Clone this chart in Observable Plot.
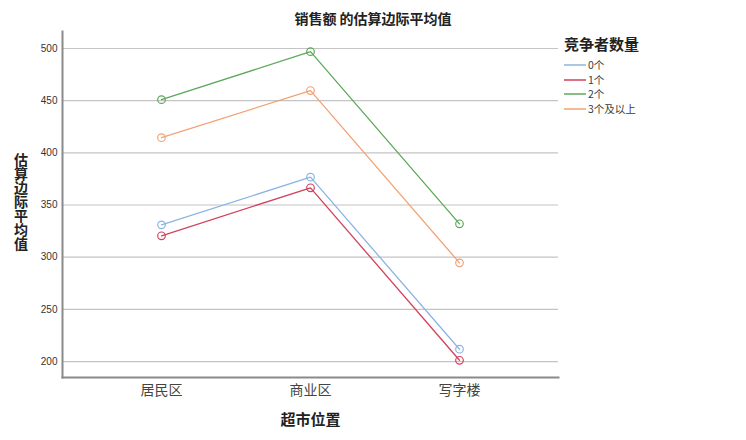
<!DOCTYPE html>
<html>
<head>
<meta charset="utf-8">
<script src="https://cdn.jsdelivr.net/npm/d3@7"></script>
<script src="https://cdn.jsdelivr.net/npm/@observablehq/plot@0.6"></script>
<style>
  body { margin: 0; background: #fff; }
  #wrap { position: relative; width: 746px; height: 440px; font-family: "Noto Sans CJK SC", sans-serif; }
  #title { position: absolute; left: 0; width: 746px; top: 8px; text-align: center; font-size: 14px; font-weight: bold; color: #222; }
  #ylab { position: absolute; left: 12px; top: 153px; font-size: 14px; font-weight: bold; color: #222; line-height: 18px;
          writing-mode: vertical-rl; text-orientation: upright; letter-spacing: 0; }
  #legend { position: absolute; left: 564px; top: 34px; font-size: 10.5px; color: #3a3a3a; }
  #legend .lt { font-size: 15px; font-weight: bold; color: #222; margin-bottom: 4px; line-height: 20px; }
  #legend .row { display: flex; align-items: center; height: 14.5px; line-height: 12px; }
  #legend svg { margin-right: 2px; display: block; }
</style>
</head>
<body>
<div id="wrap">
  <div id="chart"></div>
  <div id="title">销售额 的估算边际平均值</div>
  <div id="ylab">估算边际平均值</div>
  <div id="legend"></div>
</div>
<script>
const locations = ['居民区', '商业区', '写字楼']
const groups = ['0个', '1个', '2个', '3个及以上']
const colors = ['#8cb4e2', '#d3405e', '#5ea85a', '#f2a273']
const v0 = [331, 376.7, 211.8]
const v1 = [320.5, 366.5, 201.2]
const v2 = [451, 497, 332]
const v3 = [414.5, 459.7, 294.6]
const yTicks = [200, 250, 300, 350, 400, 450, 500]
const yDomain = [184.7, 516.3]

const series = [v0, v1, v2, v3]
let data = []
groups.forEach((g, i) => {
  locations.forEach((loc, j) => data.push({loc: loc, grp: g, val: series[i][j]}))
})

let chart = Plot.plot({
  width: 746,
  height: 440,
  marginLeft: 62,
  marginRight: 188,
  marginTop: 31,
  marginBottom: 63,
  x: {type: 'point', domain: locations, padding: 0.664, label: null},
  y: {domain: yDomain, label: null},
  color: {domain: groups, range: colors},
  marks: [
    Plot.gridY(yTicks, {stroke: '#c4c4c4', strokeOpacity: 1, strokeWidth: 1.2}),
    Plot.frame({anchor: 'left', stroke: '#8a8a8a', strokeWidth: 2}),
    Plot.frame({anchor: 'bottom', stroke: '#8a8a8a', strokeWidth: 2}),
    Plot.axisY(yTicks, {tickSize: 0, tickPadding: 5, fontSize: 10, fill: '#333', fontFamily: 'Liberation Sans, Arial', label: null}),
    Plot.axisX({tickSize: 0, tickPadding: 8, fontSize: 14, fill: '#444', label: null}),
    Plot.line(data, {x: 'loc', y: 'val', z: 'grp', stroke: 'grp', strokeWidth: 1.3}),
    Plot.dot(data, {x: 'loc', y: 'val', stroke: 'grp', r: 3.8, strokeWidth: 1.2, fill: 'none'}),
    Plot.text(['超市位置'], {frameAnchor: 'bottom', dy: 47, fontSize: 15, fontWeight: 'bold', fill: '#222'})
  ],
  style: {fontFamily: '"Noto Sans CJK SC", sans-serif', background: 'white'}
})

d3.select('#chart').append(() => chart)

let lg = d3.select('#legend')
lg.append('div').attr('class', 'lt').text('竞争者数量')
groups.forEach((g, i) => {
  let r = lg.append('div').attr('class', 'row')
  r.append('svg').attr('width', 22).attr('height', 4)
    .append('line').attr('x1', 0).attr('x2', 22).attr('y1', 2).attr('y2', 2)
    .attr('stroke', colors[i]).attr('stroke-width', 1.5)
  r.append('span').text(g)
})
</script>
</body>
</html>
